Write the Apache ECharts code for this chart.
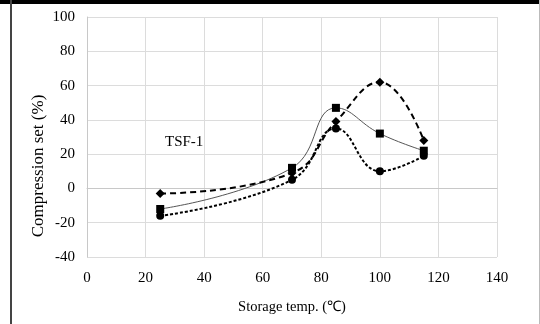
<!DOCTYPE html>
<html>
<head>
<meta charset="utf-8">
<script src="https://cdn.jsdelivr.net/npm/echarts@6/dist/echarts.min.js"></script>
<style>
  html, body { margin: 0; padding: 0; background: #fff; }
  #chart { width: 540px; height: 324px; }
</style>
</head>
<body>
<div id="chart"></div>
<script>
// Storage temperatures (°C) and compression set (%) for TSF-1
const temps = [25, 70, 85, 100, 115];
const setSquare = [-12, 12, 47, 32, 22];
const setDiamond = [-3, 9, 39, 62, 28];
const setCircle = [-16, 5, 35, 10, 19];

const xTicks = { min: 0, max: 140, step: 20 };
const yTicks = { min: -40, max: 100, step: 20 };

const sampleLabel = 'TSF-1';
const xTitle = 'Storage temp. (\u2103)';
const yTitle = 'Compression set (%)';

const pair = vals => temps.map((t, i) => [t, vals[i]]);
const FONT = '"Liberation Serif", "Times New Roman", serif';

const chart = echarts.init(document.getElementById('chart'), null, { renderer: 'canvas' });

const gridLeft = 87, gridRight = 43, gridTop = 17, gridBottom = 67;

chart.setOption({
  animation: false,
  backgroundColor: '#ffffff',
  grid: { left: gridLeft, right: gridRight, top: gridTop, bottom: gridBottom, containLabel: false },
  xAxis: {
    type: 'value',
    min: xTicks.min, max: xTicks.max, interval: xTicks.step,
    name: xTitle, nameLocation: 'middle', nameGap: 43,
    nameTextStyle: { fontFamily: FONT, fontSize: 14.5, color: '#000' },
    axisLine: { show: true, lineStyle: { color: '#c8c8c8', width: 1 } },
    axisTick: { show: false },
    axisLabel: { fontFamily: FONT, fontSize: 15, color: '#000', margin: 14 },
    splitLine: { show: true, lineStyle: { color: '#dcdcdc', width: 1 } }
  },
  yAxis: {
    type: 'value',
    min: yTicks.min, max: yTicks.max, interval: yTicks.step,
    axisLine: { show: true, lineStyle: { color: '#c8c8c8', width: 1 } },
    axisTick: { show: false },
    axisLabel: { fontFamily: FONT, fontSize: 15, color: '#000', margin: 12 },
    splitLine: { show: true, lineStyle: { color: '#dcdcdc', width: 1 } }
  },
  graphic: [
    // frame: heavy top rule, left rule, thin right rule
    { type: 'rect', left: 0, top: 0, shape: { width: 540, height: 4 }, style: { fill: '#000' }, z: 100 },
    { type: 'rect', left: 10, top: 0, shape: { width: 2, height: 324 }, style: { fill: '#444' }, z: 100 },
    { type: 'rect', left: 539, top: 0, shape: { width: 1, height: 324 }, style: { fill: '#bbb' }, z: 100 },
    {
      type: 'text', left: 165, top: 135,
      style: { text: sampleLabel, font: '15px ' + FONT, fill: '#000' }, z: 100
    },
    {
      type: 'text', x: 39, y: 166, rotation: Math.PI / 2,
      style: { text: yTitle, font: '17px ' + FONT, fill: '#000', align: 'center', verticalAlign: 'middle' }, z: 100
    }
  ],
  series: [
    {
      type: 'line', data: pair(setSquare), smooth: 0.45,
      symbol: 'rect', symbolSize: 8,
      itemStyle: { color: '#000' },
      lineStyle: { color: '#555', width: 1, type: 'solid' }
    },
    {
      type: 'line', data: pair(setDiamond), smooth: 0.45,
      symbol: 'diamond', symbolSize: 9,
      itemStyle: { color: '#000' },
      lineStyle: { color: '#000', width: 2, type: [6, 4] }
    },
    {
      type: 'line', data: pair(setCircle), smooth: 0.45,
      symbol: 'circle', symbolSize: 8,
      itemStyle: { color: '#000' },
      lineStyle: { color: '#000', width: 2, type: [3, 2] }
    }
  ]
});
</script>
</body>
</html>
